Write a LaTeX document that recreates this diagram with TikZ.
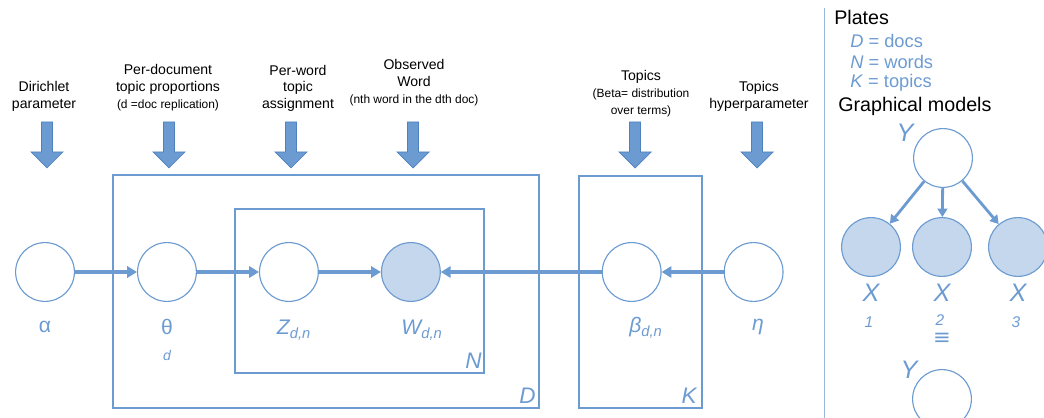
\documentclass[tikz,border=0pt]{standalone}
\usepackage{fontspec}
\setmainfont{Liberation Sans}
\newfontfamily\symfont{DejaVu Sans}
\usetikzlibrary{arrows.meta,positioning}
\definecolor{PBlue}{HTML}{6C9BD2}
\definecolor{PFill}{HTML}{C4D7EC}
\definecolor{PDark}{HTML}{4F81BD}

\begin{document}
\begin{tikzpicture}[
  x=0.025cm,y=-0.025cm,
  node distance=1.55cm,
  var/.style={circle,draw=PBlue,line width=0.8pt,fill=white,
    minimum size=1.47cm,inner sep=0pt},
  obs/.style={var,fill=PFill},
  e/.style={-{Triangle[length=7pt,width=8pt]},line width=2.5pt,draw=PBlue},
  ge/.style={-{Triangle[length=6pt,width=7pt]},line width=2pt,draw=PBlue},
  blk/.style={draw=PDark,fill=PBlue,line width=0.5pt,line join=miter},
  sym/.style={text=PBlue,font=\fontsize{15}{18}\selectfont,inner sep=0pt},
  idx/.style={text=PBlue,font=\fontsize{10}{12}\selectfont\itshape,inner sep=0pt},
  lbl/.style={align=center,font=\fontsize{10}{12}\selectfont,anchor=south,inner sep=0pt},
  plate/.style={draw=PBlue,line width=1pt},
  plbl/.style={text=PBlue,font=\fontsize{16}{18}\selectfont\itshape,
    anchor=south east,inner sep=0pt},
  key/.style={text=PBlue,font=\fontsize{13}{15}\selectfont,anchor=west,inner sep=0pt},
  head/.style={font=\fontsize{14}{16}\selectfont,anchor=west,inner sep=0pt},
  big/.style={text=PBlue,font=\fontsize{18}{20}\selectfont\itshape,inner sep=0pt}
]
  \useasboundingbox (0,0) rectangle (1044,418);

  % plates
  \draw[plate] (113,175) rectangle (539,408);
  \draw[plate] (235,209) rectangle (484,373);
  \draw[plate] (579,176) rectangle (702,408);
  \node[plbl] (pn) at (482,369) {N};
  \node[plbl] (pd) at (536,404) {D};
  \node[plbl] (pk) at (697,404) {K};

  % variables
  \node[var] (alpha) at (45,272) {};
  \node[var,right=of alpha] (theta) {};
  \node[var,right=of theta] (z) {};
  \node[obs,right=of z] (w) {};
  \node[var,right=4.02cm of w] (beta) {};
  \node[var,right=1.55cm of beta] (eta) {};

  \draw[e] (alpha) -- (theta);
  \draw[e] (theta) -- (z);
  \draw[e] (z) -- (w);
  \draw[e] (beta) -- (w);
  \draw[e] (eta) -- (beta);

  \node[sym] (lalpha) at (45,327) {α};
  \node[sym] (ltheta) at (167,327) {θ};
  \node[idx] (ld) at (167,355) {d};
  \node[sym] (lz) at (294,330) {\itshape Z\textsubscript{d,n}};
  \node[sym] (lw) at (422,330) {\itshape W\textsubscript{d,n}};
  \node[sym] (lbeta) at (646,328) {\itshape β\textsubscript{d,n}};
  \node[sym] (leta) at (758,327) {\itshape η};

  % block arrows
  \foreach \x in {47,169,291,413,635,757}
    \draw[blk] (\x-5.5,122) -- (\x+5.5,122) -- (\x+5.5,152) -- (\x+16,152)
      -- (\x,168) -- (\x-16,152) -- (\x-5.5,152) -- cycle;

  \node[lbl] (tdir) at (44,112) {Dirichlet\\parameter};
  \node[lbl] (tdoc) at (168,111) {Per-document\\topic proportions\\
    {\fontsize{8.5}{10}\selectfont (d =doc replication)}};
  \node[lbl] (tword) at (298,112) {Per-word\\topic\\assignment};
  \node[lbl] (tobs) at (414,106) {Observed\\Word\\
    {\fontsize{8.5}{10}\selectfont (nth word in the dth doc)}};
  \node[lbl] (ttop) at (641,117) {Topics\\
    {\fontsize{8.5}{10}\selectfont (Beta= distribution}\\
    {\fontsize{8.5}{10}\selectfont over terms)}};
  \node[lbl] (thyp) at (759,112) {Topics\\hyperparameter};

  % side panel
  \draw[PBlue!70,line width=0.6pt] (824,8) -- (824,418);
  \node[head] (plates) at (834,17) {Plates};
  \node[key] (kd) at (850,41) {\textit{D} = docs};
  \node[key] (kn) at (850,62) {\textit{N} = words};
  \node[key] (kk) at (850,83) {\textit{K} = topics};
  \node[head] (gm) at (838,106) {Graphical models};

  \node[var] (y) at (943,158) {};
  \node[obs] (x1) at (871,247) {};
  \node[obs] (x2) at (942,247) {};
  \node[obs] (x3) at (1018,247) {};
  \draw[ge] (y) -- (x1);
  \draw[ge] (y) -- (x2);
  \draw[ge] (y) -- (x3);
  \node[big] (ly) at (905,133) {Y};
  \node[big] (lx1) at (871,293) {X};
  \node[big] (lx2) at (942,293) {X};
  \node[big] (lx3) at (1018,293) {X};
  \node[idx,font=\fontsize{11}{12}\selectfont\itshape] (i1) at (869,322) {1};
  \node[idx,font=\fontsize{11}{12}\selectfont\itshape] (i2) at (940,320) {2};
  \node[idx,font=\fontsize{11}{12}\selectfont\itshape] (i3) at (1016,322) {3};
  \node[text=PBlue,inner sep=0pt,font=\symfont\fontsize{15}{16}\selectfont] (eq) at (942,339) {≡};

  \node[big] (ly2) at (909,370) {Y};
  \node[var] (y2) at (942,399) {};
\end{tikzpicture}
\end{document}
